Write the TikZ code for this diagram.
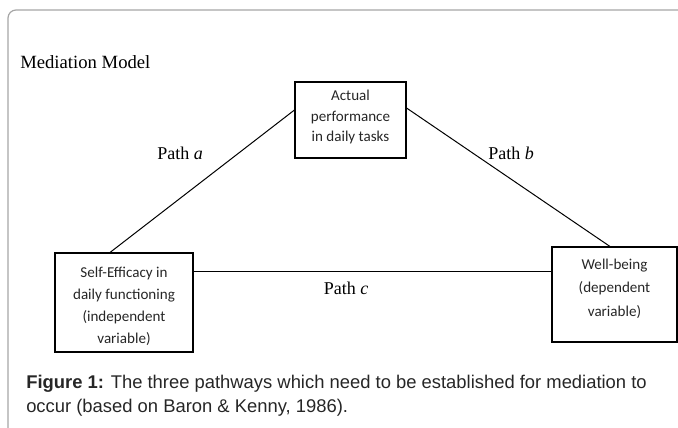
\documentclass[tikz,border=0pt]{standalone}
\usepackage{fontspec}
\setmainfont{Liberation Serif}
\newfontfamily\calfont{Carlito}
\newfontfamily\arialfont{Liberation Sans}
\usetikzlibrary{calc}
\begin{document}
\begin{tikzpicture}[x=0.75pt,y=-0.75pt,
  boxstyle/.style={draw=black,line width=0.8pt,inner sep=0pt,rectangle},
  boxtext/.style={font=\calfont\fontsize{11.3}{15.5}\selectfont,align=center,inner sep=0pt,text=black!85},
  pathlbl/.style={font=\fontsize{13.5}{16}\selectfont,inner sep=0pt},
  captext/.style={anchor=base west,inner sep=0pt,font=\arialfont\fontsize{13.8}{18}\selectfont,text=black!85},
  conn/.style={draw=black,line width=0.75pt}]
\useasboundingbox (0,0) rectangle (678,428);
% frame
\draw[draw=black!35,line width=0.9pt,rounded corners=6pt] (8,430) -- (8,10) -- (682,10);
% title
\node[anchor=west,inner sep=0pt,font=\fontsize{14}{17}\selectfont] (title) at (20,62) {Mediation Model};
% boxes
\node[boxstyle,minimum width=83.25pt,minimum height=57pt] (T) at (350.5,120) {};
\node[boxstyle,minimum width=103.5pt,minimum height=74.25pt] (L) at (124,302.5) {};
\node[boxstyle,minimum width=93.75pt,minimum height=71.25pt] (R) at (614.5,294.5) {};
\node[boxtext] (Tt) at (350.5,117) {Actual\\performance\\in daily tasks};
\node[boxtext,font=\calfont\fontsize{11.3}{16.5}\selectfont] (Lt) at (124,306) {Self-Efficacy in\\daily functioning\\(independent\\variable)};
\node[boxtext,font=\calfont\fontsize{11.3}{17.5}\selectfont] (Rt) at (614.5,288.5) {Well-being\\(dependent\\variable)};
% connectors
\coordinate (hc) at (0,271);
\draw[conn] ([xshift=-10.5pt]L.north) -- ([yshift=7.5pt]T.west);
\draw[conn] ([yshift=9pt]T.east) -- ([xshift=-3.4pt]R.north);
\draw[conn] (L.east |- hc) -- (R.west |- hc);
% path labels
\node[pathlbl] (pa) at (180,153) {Path \textit{a}};
\node[pathlbl] (pb) at (511,153) {Path \textit{b}};
\node[pathlbl] (pc) at (346,288) {Path \textit{c}};
% caption
\node[captext] (cap1) at (26,388) {\textbf{Figure 1:} The three pathways which need to be established for mediation to};
\node[captext] (cap2) at (26,412) {occur (based on Baron \& Kenny, 1986).};
\end{tikzpicture}
\end{document}
